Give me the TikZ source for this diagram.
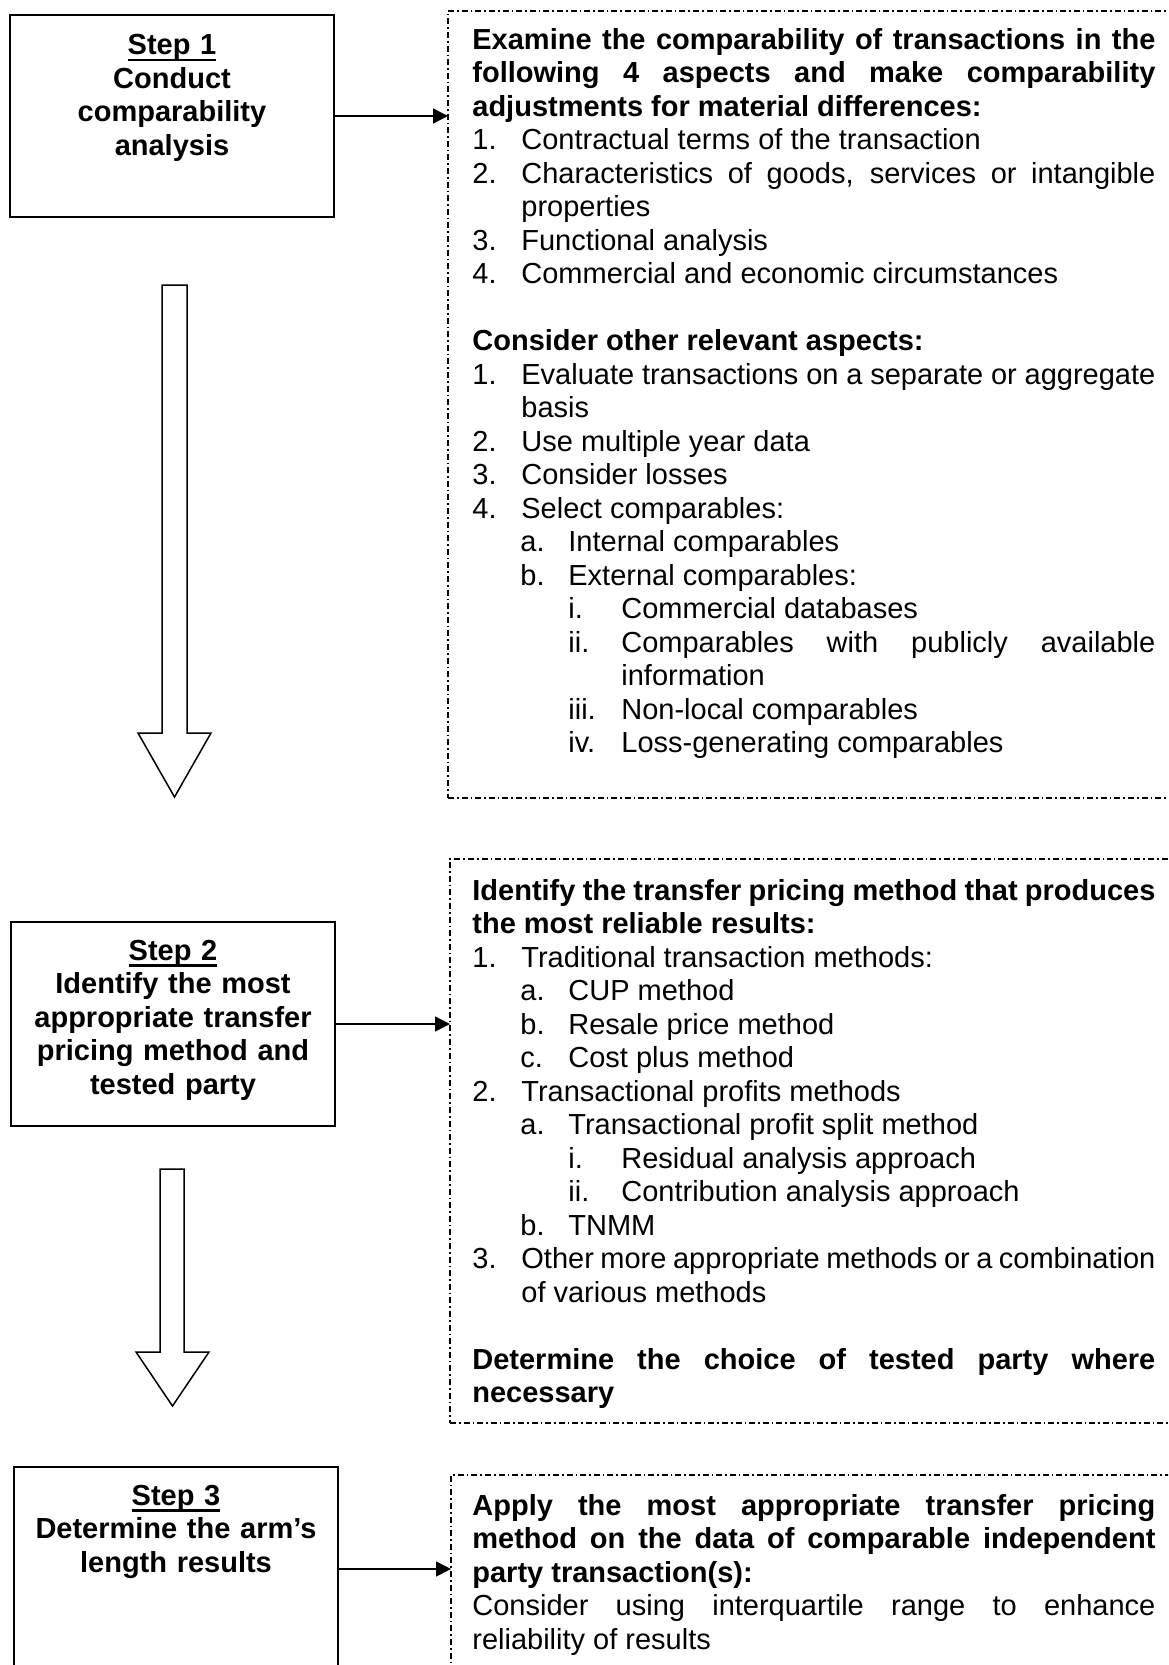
\documentclass[tikz,border=0pt]{standalone}
\usepackage{fontspec}
\setmainfont{Liberation Sans}
\usetikzlibrary{arrows.meta,positioning}

% list lines: label position, text position, label, text
\newcommand{\listitem}[4]{{\leftskip=#2\noindent\hskip\dimexpr#1-#2\relax\makebox[\dimexpr#2-#1\relax][l]{#3}#4\par}}
\newcommand{\itema}{\listitem{0pt}{24.5pt}}
\newcommand{\itemb}{\listitem{24pt}{48pt}}
\newcommand{\itemc}{\listitem{48pt}{74.5pt}}
\newcommand{\stepul}[1]{\setbox0=\hbox{#1}\rlap{\rule[-3.3pt]{\wd0}{1.3pt}}\box0}
\newcommand{\gapline}{\vskip16.75pt}

\hyphenpenalty=10000
\exhyphenpenalty=10000
\tolerance=9999
\hbadness=10000

\begin{document}
\begin{tikzpicture}[x=0.5pt,y=-0.5pt,
  stepbox/.style={draw, line width=1pt, inner sep=0pt, outer sep=0pt, minimum width=162pt, anchor=north west},
  steptext/.style={inner sep=0pt, text width=160pt, align=center, font=\fontsize{14.5pt}{16.75pt}\selectfont\bfseries},
  notebox/.style={draw, line width=0.6pt, dash pattern=on 3pt off 1.5pt on 0.8pt off 1.5pt, inner sep=0pt, outer sep=0pt, anchor=north west},
  notetext/.style={inner sep=0pt, text width=341.5pt, align=justify, font=\fontsize{14.5pt}{16.75pt}\selectfont,
    execute at begin node={\parindent=0pt\parskip=0pt}},
  linkarrow/.style={line width=0.7pt, -{Triangle[length=7.5pt,width=7.5pt]}},
  hollowarrow/.style={line width=0.75pt, line join=miter}]

\useasboundingbox (0,0) rectangle (1168,1665);
\clip (0,0) rectangle (1168,1665);
\fill[white] (0,0) rectangle (1168,1665);

% Step boxes
\node[stepbox, minimum height=101pt] (step1) at (10,15) {};
\node[stepbox, minimum height=102pt] (step2) at (11,922) {};
\node[stepbox, minimum height=102pt] (step3) at (14,1467) {};

\node[steptext, below=9.5pt of step1.north] (step1text) {\stepul{Step 1}\\Conduct\\comparability\\analysis};
\node[steptext, below=8.7pt of step2.north] (step2text) {\stepul{Step 2}\\Identify the most\\appropriate transfer\\pricing method and\\tested party};
\node[steptext, below=8.7pt of step3.north] (step3text) {\stepul{Step 3}\\Determine the arm’s\\length results};

% Note boxes
\node[notebox, minimum width=376pt, minimum height=393.5pt] (note1) at (448,11) {};
\node[notebox, minimum width=375pt, minimum height=282pt] (note2) at (450,859) {};
\node[notebox, minimum width=375pt, minimum height=120pt] (note3) at (451,1475) {};

\node[notetext, below right=8.5pt and 12pt of note1.north west] (note1text) {%
{\bfseries Examine the comparability of transactions in the \linebreak following 4 aspects and make comparability \linebreak adjustments for material differences:\par}
\itema{1.}{Contractual terms of the transaction}
\itema{2.}{Characteristics of goods, services or intangible \linebreak properties}
\itema{3.}{Functional analysis}
\itema{4.}{Commercial and economic circumstances}
\gapline
{\bfseries Consider other relevant aspects:\par}
\itema{1.}{Evaluate transactions on a separate or aggregate \linebreak basis}
\itema{2.}{Use multiple year data}
\itema{3.}{Consider losses}
\itema{4.}{Select comparables:}
\itemb{a.}{Internal comparables}
\itemb{b.}{External comparables:}
\itemc{i.}{Commercial databases}
\itemc{ii.}{Comparables with publicly available \linebreak information}
\itemc{iii.}{Non-local comparables}
\itemc{iv.}{Loss-generating comparables}};

\node[notetext, below right=10pt and 11pt of note2.north west] (note2text) {%
{\bfseries Identify the transfer pricing method that produces \linebreak the most reliable results:\par}
\itema{1.}{Traditional transaction methods:}
\itemb{a.}{CUP method}
\itemb{b.}{Resale price method}
\itemb{c.}{Cost plus method}
\itema{2.}{Transactional profits methods}
\itemb{a.}{Transactional profit split method}
\itemc{i.}{Residual analysis approach}
\itemc{ii.}{Contribution analysis approach}
\itemb{b.}{TNMM}
\itema{3.}{Other more appropriate methods or a combination \linebreak of various methods}
\gapline
{\bfseries Determine the choice of tested party where \linebreak necessary\par}};

\node[notetext, below right=9.5pt and 10.5pt of note3.north west] (note3text) {%
{\bfseries Apply the most appropriate transfer pricing \linebreak method on the data of comparable independent \linebreak party transaction(s):\par}
Consider using interquartile range to enhance \linebreak reliability of results\par};

% Links
\draw[linkarrow] (step1.east) -- (step1.east -| note1.west);
\draw[linkarrow] (step2.east) -- (step2.east -| note2.west);
\draw[linkarrow] (step3.east) -- (step3.east -| note3.west);

% Hollow arrows
\draw[hollowarrow] (162,285) -- (187,285) -- (187,733) -- (211,733) -- (174.5,797) -- (138,733) -- (162,733) -- cycle;
\draw[hollowarrow] (160,1169) -- (184,1169) -- (184,1352) -- (209,1352) -- (172.5,1406) -- (136,1352) -- (160,1352) -- cycle;

\end{tikzpicture}
\end{document}
